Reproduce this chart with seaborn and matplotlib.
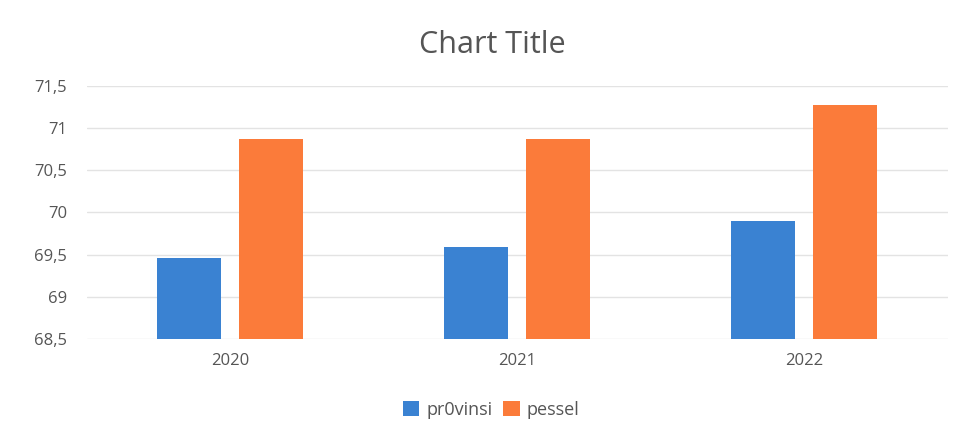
import matplotlib
matplotlib.use("Agg")
import matplotlib.pyplot as plt
import seaborn as sns
import pandas as pd
from matplotlib.ticker import FuncFormatter

years = ["2020", "2021", "2022"]
provinsi = [69.46, 69.59, 69.90]
pessel = [70.87, 70.87, 71.28]
series_names = ["pr0vinsi", "pessel"]

df = pd.DataFrame({
    "year": years * 2,
    "value": provinsi + pessel,
    "series": [series_names[0]] * 3 + [series_names[1]] * 3,
})

sns.set_theme(style="white")
plt.rcParams['font.family'] = ['Open Sans', 'DejaVu Sans']

fig = plt.figure(figsize=(9.64, 4.25), dpi=100)
ax = fig.add_axes([0.090, 0.2024, 0.893, 0.5953])

palette = {"pr0vinsi": "#3a82d2", "pessel": "#fb7b3a"}
sns.barplot(data=df, x="year", y="value", hue="series", palette=palette,
            width=0.57, gap=0.22, ax=ax, legend=True, saturation=1,
            linewidth=0, edgecolor="none")

ax.set_ylim(68.5, 71.5)
ax.set_yticks([68.5, 69, 69.5, 70, 70.5, 71, 71.5])
ax.yaxis.set_major_formatter(FuncFormatter(lambda v, p: (f"{v:g}").replace(".", ",")))
ax.grid(axis="y", color="#e3e3e3", linewidth=1)
ax.set_axisbelow(True)
for s in ax.spines.values():
    s.set_visible(False)
ax.set_xlabel("")
ax.set_ylabel("")
ax.tick_params(axis="both", length=0, labelsize=12, labelcolor="#555555")
ax.tick_params(axis="x", pad=10)
ax.tick_params(axis="y", pad=14)

fig.suptitle("Chart Title", x=0.511, y=0.93, fontsize=22, color="#555555")

leg = ax.legend(loc="upper center", bbox_to_anchor=(0.47, -0.18), ncol=2,
                frameon=False, fontsize=13, handlelength=0.9, handleheight=0.9,
                columnspacing=0.6, handletextpad=0.4, labelcolor="#555555")

fig.savefig("out.png", dpi=100)
